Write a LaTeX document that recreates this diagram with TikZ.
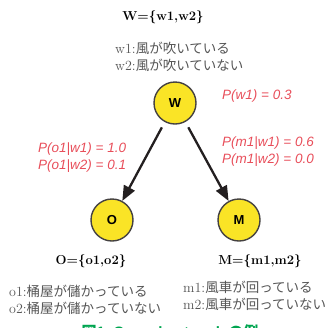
\documentclass[tikz,border=0pt]{standalone}
\usepackage{fontspec}
\setsansfont{Liberation Sans}
\newfontfamily\cjk{Noto Sans CJK JP}
\usepackage{xcolor}
\usepackage{tikz}
\usetikzlibrary{arrows.meta}

\definecolor{nodeyellow}{RGB}{250,228,38}
\definecolor{probred}{RGB}{232,78,90}
\definecolor{descgray}{RGB}{85,85,85}
\definecolor{capgreen}{RGB}{0,165,80}
\definecolor{arrowdark}{RGB}{35,31,32}

\tikzset{
	varnode/.style={circle, draw=arrowdark!85, line width=1.4pt, fill=nodeyellow, minimum size=42pt, inner sep=0pt, font=\sffamily\bfseries\fontsize{13}{13}\selectfont},
	settext/.style={font=\bfseries\fontsize{13}{15}\selectfont, inner sep=0pt},
	desctext/.style={text=descgray, align=left, anchor=west, inner sep=0pt, font=\fontsize{14}{17}\selectfont},
	probtext/.style={text=probred, align=left, anchor=west, inner sep=0pt, font=\sffamily\itshape\fontsize{13.5}{17}\selectfont},
	link/.style={line width=2.3pt, draw=arrowdark, -{Triangle[length=15pt,width=12pt]}}
}

\begin{document}
\begin{tikzpicture}[x=1pt, y=-1pt]
	\useasboundingbox (0,0) rectangle (334,327);
	\clip (0,0) rectangle (334,327);
	
	% variables
	\node [varnode] (W) at (175,103) {W};
	\node [varnode] (O) at (112,220) {O};
	\node [varnode] (M) at (239,220) {M};
	
	\draw [link, shorten <=6pt] (W) -- (O);
	\draw [link, shorten <=6pt] (W) -- (M);
	
	% value sets
	\node [settext] (Wset) at (163,17) {W=\{w1,w2\}};
	\node [settext] (Oset) at (91,261) {O=\{o1,o2\}};
	\node [settext] (Mset) at (260,261) {M=\{m1,m2\}};
	
	\node [desctext] (Wdesc) at (115,57) {w1:{\cjk\fontsize{13.5}{17}\selectfont 風が吹いている}\\w2:{\cjk\fontsize{13.5}{17}\selectfont 風が吹いていない}};
	\node [desctext] (Odesc) at (9,300) {o1:{\cjk\fontsize{13.5}{17}\selectfont 桶屋が儲かっている}\\o2:{\cjk\fontsize{13.5}{17}\selectfont 桶屋が儲かっていない}};
	\node [desctext] (Mdesc) at (183,296) {m1:{\cjk\fontsize{13.5}{17}\selectfont 風車が回っている}\\m2:{\cjk\fontsize{13.5}{17}\selectfont 風車が回っていない}};
	
	% probabilities
	\node [probtext] (Wprob) at (222,96) {P(w1) = 0.3};
	\node [probtext] (Oprob) at (38,158) {P(o1|w1) = 1.0\\P(o1|w2) = 0.1};
	\node [probtext] (Mprob) at (222,152) {P(m1|w1) = 0.6\\P(m1|w2) = 0.0};
	
	% caption
	\node [text=capgreen, font=\sffamily\bfseries\fontsize{15}{15}\selectfont, inner sep=0pt] (caption) at (170,332) {{\cjk 図}1\ \ Causal network {\cjk の例}};
\end{tikzpicture}
\end{document}
